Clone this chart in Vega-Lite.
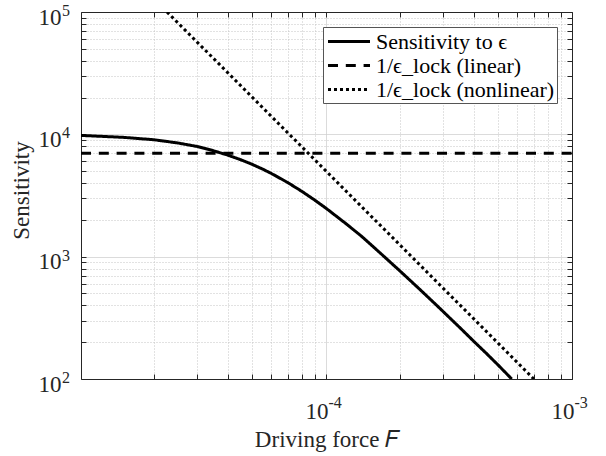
{
  "$schema": "https://vega.github.io/schema/vega-lite/v6.json",
  "width": 491,
  "height": 367,
  "autosize": {"type": "none"},
  "padding": {"left": 81, "top": 12, "right": 34, "bottom": 77},
  "background": "white",
  "config": {"view": {"stroke": null}, "font": "Liberation Serif"},
  "data": {
    "values": [
      {"F": 1.01e-5, "S": 9800, "series": "Sensitivity to ϵ"},
      {"F": 1.5e-5, "S": 9450, "series": "Sensitivity to ϵ"},
      {"F": 2e-5, "S": 9030, "series": "Sensitivity to ϵ"},
      {"F": 2.5e-5, "S": 8500, "series": "Sensitivity to ϵ"},
      {"F": 3e-5, "S": 7950, "series": "Sensitivity to ϵ"},
      {"F": 3.5e-5, "S": 7330, "series": "Sensitivity to ϵ"},
      {"F": 4e-5, "S": 6750, "series": "Sensitivity to ϵ"},
      {"F": 4.5e-5, "S": 6200, "series": "Sensitivity to ϵ"},
      {"F": 5e-5, "S": 5694, "series": "Sensitivity to ϵ"},
      {"F": 5.5e-5, "S": 5222, "series": "Sensitivity to ϵ"},
      {"F": 6e-5, "S": 4787, "series": "Sensitivity to ϵ"},
      {"F": 7e-5, "S": 4029, "series": "Sensitivity to ϵ"},
      {"F": 8e-5, "S": 3406, "series": "Sensitivity to ϵ"},
      {"F": 9e-5, "S": 2899, "series": "Sensitivity to ϵ"},
      {"F": 1e-4, "S": 2490, "series": "Sensitivity to ϵ"},
      {"F": 1.2e-4, "S": 1875, "series": "Sensitivity to ϵ"},
      {"F": 1.4e-4, "S": 1460, "series": "Sensitivity to ϵ"},
      {"F": 1.7e-4, "S": 1027, "series": "Sensitivity to ϵ"},
      {"F": 2e-4, "S": 763, "series": "Sensitivity to ϵ"},
      {"F": 2.4e-4, "S": 543, "series": "Sensitivity to ϵ"},
      {"F": 2.8e-4, "S": 405, "series": "Sensitivity to ϵ"},
      {"F": 3.2e-4, "S": 313, "series": "Sensitivity to ϵ"},
      {"F": 3.6e-4, "S": 249, "series": "Sensitivity to ϵ"},
      {"F": 4e-4, "S": 202, "series": "Sensitivity to ϵ"},
      {"F": 4.5e-4, "S": 161, "series": "Sensitivity to ϵ"},
      {"F": 5e-4, "S": 130.5, "series": "Sensitivity to ϵ"},
      {"F": 5.69e-4, "S": 100, "series": "Sensitivity to ϵ"},
      {"F": 1.01e-5, "S": 7000, "series": "1/ϵ_lock (linear)"},
      {"F": 1e-3, "S": 7000, "series": "1/ϵ_lock (linear)"},
      {"F": 2.26e-5, "S": 100000, "series": "1/ϵ_lock (nonlinear)"},
      {"F": 7.0e-4, "S": 100, "series": "1/ϵ_lock (nonlinear)"}
    ]
  },
  "resolve": {"axis": {"x": "independent", "y": "independent"}},
  "layer": [
    {
      "mark": {"type": "line", "strokeWidth": 3, "color": "black", "clip": true},
      "encoding": {
        "x": {
          "field": "F", "type": "quantitative",
          "scale": {"type": "log", "domain": [1.01e-5, 0.001], "nice": false},
          "axis": {
            "orient": "bottom",
            "values": [2e-5, 3e-5, 4e-5, 5e-5, 6e-5, 7e-5, 8e-5, 9e-5, 0.0001, 2e-4, 3e-4, 4e-4, 5e-4, 6e-4, 7e-4, 8e-4, 9e-4, 0.001],
            "labelExpr": "datum.value == 0.0001 || datum.value == 0.001 ? '10' : ''",
            "labelAlign": "right", "labelBaseline": "alphabetic", "labelOffset": 2, "labelPadding": 44,
            "labelFont": "Liberation Serif", "labelFontSize": 23, "labelColor": "#262626",
            "labelFlush": false, "labelOverlap": false, "labelBound": false,
            "tickSize": -5, "tickColor": "#262626", "tickWidth": 1,
            "domainColor": "#262626", "domainWidth": 1,
            "grid": true,
            "gridColor": {"condition": {"test": "datum.value == 0.0001 || datum.value == 0.001", "value": "#cfcfcf"}, "value": "#c4c4c4"},
            "gridDash": {"condition": {"test": "datum.value == 0.0001 || datum.value == 0.001", "value": [1, 0]}, "value": [1, 2]},
            "title": "Driving force 𝐹", "titleFont": "Liberation Serif", "titleFontSize": 23, "titleFontWeight": "normal",
            "titleColor": "#262626", "titleBaseline": "alphabetic", "titleAlign": "center", "titleX": 245.5, "titleY": 67
          }
        },
        "y": {
          "field": "S", "type": "quantitative",
          "scale": {"type": "log", "domain": [100, 100000], "nice": false},
          "axis": {
            "orient": "left",
            "values": [100, 200, 300, 400, 500, 600, 700, 800, 900, 1000, 2000, 3000, 4000, 5000, 6000, 7000, 8000, 9000, 10000, 20000, 30000, 40000, 50000, 60000, 70000, 80000, 90000, 100000],
            "labelExpr": "datum.value == 100 || datum.value == 1000 || datum.value == 10000 || datum.value == 100000 ? '10' : ''",
            "labelAlign": "right", "labelBaseline": "alphabetic", "labelOffset": 12, "labelPadding": 25,
            "labelFont": "Liberation Serif", "labelFontSize": 23, "labelColor": "#262626",
            "labelFlush": false, "labelOverlap": false, "labelBound": false,
            "tickSize": -5, "tickColor": "#262626", "tickWidth": 1,
            "domainColor": "#262626", "domainWidth": 1,
            "grid": true,
            "gridColor": {"condition": {"test": "datum.value == 100 || datum.value == 1000 || datum.value == 10000 || datum.value == 100000", "value": "#cfcfcf"}, "value": "#c4c4c4"},
            "gridDash": {"condition": {"test": "datum.value == 100 || datum.value == 1000 || datum.value == 10000 || datum.value == 100000", "value": [1, 0]}, "value": [1, 2]},
            "title": "Sensitivity", "titleFont": "Liberation Serif", "titleFontSize": 23, "titleFontWeight": "normal",
            "titleColor": "#262626", "titleBaseline": "alphabetic", "titleAlign": "center", "titleAngle": -90, "titleX": -52.5, "titleY": 178
          }
        },
        "strokeDash": {
          "field": "series", "type": "nominal",
          "scale": {"domain": ["Sensitivity to ϵ", "1/ϵ_lock (linear)", "1/ϵ_lock (nonlinear)"], "range": [[1, 0], [10, 7.8], [3, 3]]},
          "legend": {
            "orient": "top-right", "offset": 15, "title": null,
            "symbolType": "M-0.864,0H2.955", "symbolSize": 484, "symbolStrokeWidth": 3, "symbolStrokeColor": "black",
            "labelFont": "Liberation Serif", "labelFontSize": 22, "labelColor": "black", "labelLimit": 400, "labelOffset": 26,
            "strokeColor": "#555555", "fillColor": "white", "padding": 2, "rowPadding": 0
          }
        }
      }
    },
    {
      "mark": {"type": "point", "opacity": 0},
      "encoding": {
        "x": {
          "field": "F", "type": "quantitative",
          "scale": {"type": "log", "domain": [1.01e-5, 0.001], "nice": false},
          "axis": {
            "orient": "bottom", "values": [0.0001, 0.001],
            "labelExpr": "'' + round(log(datum.value) / LN10)",
            "labelAlign": "left", "labelBaseline": "alphabetic", "labelOffset": 2, "labelPadding": 33.7,
            "labelFont": "Liberation Serif", "labelFontSize": 16, "labelColor": "#262626",
            "labelFlush": false, "labelOverlap": false, "labelBound": false,
            "tickSize": -5, "tickOpacity": 0, "domain": false, "grid": false, "title": null
          }
        },
        "y": {
          "field": "S", "type": "quantitative",
          "scale": {"type": "log", "domain": [100, 100000], "nice": false},
          "axis": {
            "orient": "left", "values": [100, 1000, 10000, 100000],
            "labelExpr": "'' + round(log(datum.value) / LN10)",
            "labelAlign": "left", "labelBaseline": "alphabetic", "labelOffset": 3.5, "labelPadding": 24.5,
            "labelFont": "Liberation Serif", "labelFontSize": 16, "labelColor": "#262626",
            "labelFlush": false, "labelOverlap": false, "labelBound": false,
            "tickSize": -5, "tickOpacity": 0, "domain": false, "grid": false, "title": null
          }
        }
      }
    },
    {
      "mark": {"type": "point", "opacity": 0},
      "encoding": {
        "x": {
          "field": "F", "type": "quantitative",
          "scale": {"type": "log", "domain": [1.01e-5, 0.001], "nice": false},
          "axis": {
            "orient": "top",
            "values": [2e-5, 3e-5, 4e-5, 5e-5, 6e-5, 7e-5, 8e-5, 9e-5, 0.0001, 2e-4, 3e-4, 4e-4, 5e-4, 6e-4, 7e-4, 8e-4, 9e-4, 0.001],
            "labels": false, "tickSize": -5, "tickColor": "#262626", "domainColor": "#262626", "grid": false, "title": null
          }
        },
        "y": {
          "field": "S", "type": "quantitative",
          "scale": {"type": "log", "domain": [100, 100000], "nice": false},
          "axis": {
            "orient": "right",
            "values": [100, 200, 300, 400, 500, 600, 700, 800, 900, 1000, 2000, 3000, 4000, 5000, 6000, 7000, 8000, 9000, 10000, 20000, 30000, 40000, 50000, 60000, 70000, 80000, 90000, 100000],
            "labels": false, "tickSize": -5, "tickColor": "#262626", "domainColor": "#262626", "grid": false, "title": null
          }
        }
      }
    }
  ]
}
